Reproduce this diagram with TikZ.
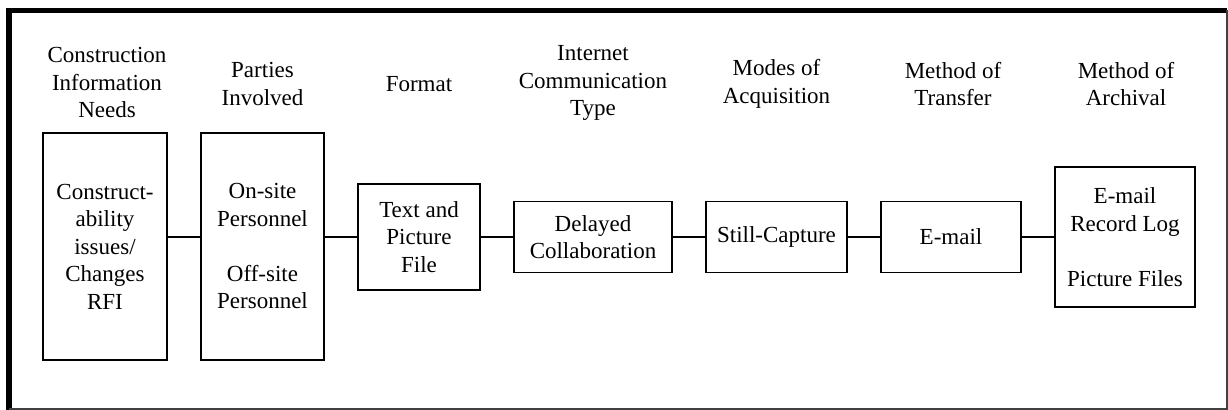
\documentclass[tikz,border=0pt]{standalone}
\usepackage{fontspec}
\setmainfont{Liberation Serif}
\tikzset{
    box/.style={draw, rectangle, line width=0.9pt, align=center, inner sep=0pt,
        font=\fontsize{11.5}{13.75}\selectfont},
    head/.style={align=center, inner sep=0pt, font=\fontsize{11.5}{13.75}\selectfont}
}

\begin{document}
\begin{tikzpicture}[x=0.5pt, y=-0.5pt]
    \useasboundingbox (0,0) rectangle (1228,410);

    % outer frame
    \draw[line width=2.6pt] (9,410) -- (9,10.5) -- (1227,10.5);
    \draw[line width=0.7pt, black!75] (1227,10.5) -- (1227,409) -- (9,409);

    % headings
    \node[head] (h1) at (107,83) {Construction\\Information\\Needs};
    \node[head] (h2) at (262.5,84) {Parties\\Involved};
    \node[head] (h3) at (419,84) {Format};
    \node[head] (h4) at (593,83) {Internet\\Communication\\Type};
    \node[head] (h5) at (776.5,84) {Modes of\\Acquisition};
    \node[head] (h6) at (953,84) {Method of\\Transfer};
    \node[head] (h7) at (1126,84) {Method of\\Archival};

    % boxes
    \node[box, minimum width=62pt, minimum height=113.5pt] (needs) at (105,246.5)
        {Construct-\\ability\\issues/\\Changes\\RFI};
    \node[box, minimum width=61.5pt, minimum height=113.5pt] (parties) at (262.5,246.5)
        {On-site\\Personnel\\[13.75pt]Off-site\\Personnel};
    \node[box, minimum width=61pt, minimum height=53pt] (format) at (419,237)
        {Text and\\Picture\\File};
    \node[box, minimum width=79pt, minimum height=35.5pt] (comm) at (593,237)
        {Delayed\\Collaboration};
    \node[box, minimum width=70.5pt, minimum height=35.5pt] (acq) at (776.5,237)
        {Still-Capture};
    \node[box, minimum width=70pt, minimum height=35.5pt] (transfer) at (951,237)
        {E-mail};
    \node[box, minimum width=70pt, minimum height=70pt] (archive) at (1125,237)
        {E-mail\\Record Log\\[13.75pt]Picture Files};

    % links
    \draw[line width=1pt] (needs.east |- format.west) -- (parties.west |- format.west);
    \draw[line width=1pt] (parties.east |- format.west) -- (format.west);
    \draw[line width=1pt] (format.east) -- (comm.west);
    \draw[line width=1pt] (comm.east) -- (acq.west);
    \draw[line width=1pt] (acq.east) -- (transfer.west);
    \draw[line width=1pt] (transfer.east) -- (archive.west);
\end{tikzpicture}
\end{document}
